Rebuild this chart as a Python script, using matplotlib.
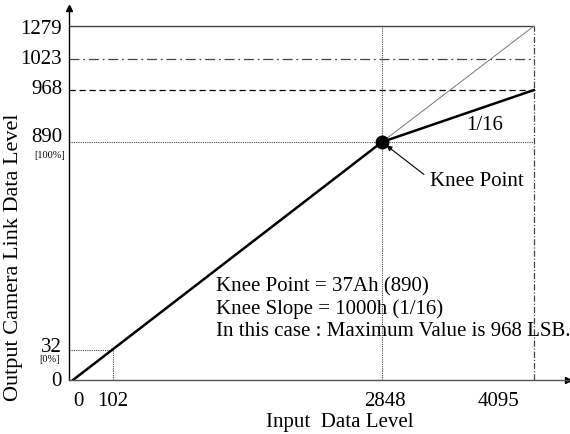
import numpy as np
import matplotlib
matplotlib.use("Agg")
import matplotlib.pyplot as plt

plt.rcParams['font.family'] = ['Liberation Serif', 'DejaVu Serif']

# input levels (x) and output levels (y)
x_ticks = [0, 102, 2848, 4095]
y_ticks = [0, 32, 890, 968, 1023, 1279]

# curve points
knee_in, knee_out = 2848, 890
max_in = 4095
clip_out = 968        # knee slope 1/16 result
dark_in, dark_out = 102, 32
lin_out = 1279        # without knee
full_out = 1023

# schematic (non-linear) placement of the tick levels, in pixels
x_place = [0, 40, 309, 461]
y_place = [0, 30, 238, 290, 321, 354]
# small label nudges, in pixels
x_lab_dx = [5, 0, 3, -36]
y_lab_dy = [-2, 3, 4, 0, -1, -3]


def piecewise(knots, place):
    knots = np.asarray(knots, float)
    place = np.asarray(place, float)
    s0 = (place[1] - place[0]) / (knots[1] - knots[0])
    s1 = (place[-1] - place[-2]) / (knots[-1] - knots[-2])

    def f(v):
        v = np.asarray(v, float)
        out = np.interp(v, knots, place)
        out = np.where(v < knots[0], place[0] + (v - knots[0]) * s0, out)
        out = np.where(v > knots[-1], place[-1] + (v - knots[-1]) * s1, out)
        return out
    return f


fx, fx_inv = piecewise(x_ticks, x_place), piecewise(x_place, x_ticks)
fy, fy_inv = piecewise(y_ticks, y_place), piecewise(y_place, y_ticks)

fig = plt.figure(figsize=(5.7, 4.34), dpi=100)
W, H = 570, 434
ax = fig.add_axes([69 / W, 54 / H, 499 / W, 372 / H])
ax.set_xscale('function', functions=(fx, fx_inv))
ax.set_yscale('function', functions=(fy, fy_inv))
ax.set_xlim(float(fx_inv(-4)), float(fx_inv(495)))
ax.set_ylim(0, float(fy_inv(372)))
x0 = ax.get_xlim()[0]

for s in ['top', 'right']:
    ax.spines[s].set_visible(False)
ax.spines['left'].set_linewidth(1.0)
ax.spines['bottom'].set_color('#555555')
ax.spines['bottom'].set_linewidth(1.0)
ax.plot(1, 0, '>', color='black', ms=4, transform=ax.transAxes, clip_on=False)
ax.plot(0, 1, '^', color='black', ms=4, transform=ax.transAxes, clip_on=False)

grey = '#444444'
# guide lines
ax.hlines(lin_out, x0, max_in, color=grey, lw=1.0)
ax.hlines(full_out, x0, max_in, color=grey, lw=0.9, linestyles=(0, (8, 3, 1.5, 3)))
ax.hlines(clip_out, x0, max_in, color='black', lw=0.9, linestyles=(0, (5, 3)))
ax.hlines(knee_out, x0, max_in, color=grey, lw=0.8, linestyles=(0, (1, 1)))
ax.hlines(dark_out, x0, dark_in, color=grey, lw=0.8, linestyles=(0, (1, 1)))
ax.vlines(dark_in, 0, dark_out, color=grey, lw=0.8, linestyles=(0, (1, 1)))
ax.vlines(knee_in, 0, lin_out, color=grey, lw=0.8, linestyles=(0, (1, 1)))
ax.vlines(max_in, 0, lin_out, color=grey, lw=0.9, linestyles=(0, (5, 1.5, 1, 1.5)))

# without knee (thin) and with knee (thick)
ax.plot([knee_in, max_in], [knee_out, lin_out], color='#777777', lw=0.7)
ax.plot([0, knee_in, max_in], [0, knee_out, clip_out], color='black', lw=1.8)
ax.plot(knee_in, knee_out, 'o', color='black', ms=9)

ax.set_xticks([])
ax.set_yticks([])
fs = 15
for v, dx in zip(x_ticks, x_lab_dx):
    ax.annotate(str(v), xy=(v, 0), xycoords=('data', 'axes fraction'),
                xytext=(dx, -22), textcoords='offset pixels',
                ha='center', va='center', fontsize=fs)
for v, dy in zip(y_ticks, y_lab_dy):
    ax.annotate(str(v), xy=(0, v), xycoords=('axes fraction', 'data'),
                xytext=(-7, dy), textcoords='offset pixels',
                ha='right', va='center', fontsize=fs)

ax.annotate('[100%]', xy=(0, knee_out), xycoords=('axes fraction', 'data'),
            xytext=(-19, -13), textcoords='offset pixels',
            ha='center', va='center', fontsize=7.5)
ax.annotate('[0%]', xy=(0, dark_out), xycoords=('axes fraction', 'data'),
            xytext=(-19, -10), textcoords='offset pixels',
            ha='center', va='center', fontsize=7.5)

ax.text(fx_inv(412), fy_inv(255), '1/16', fontsize=fs, ha='center', va='center')
ax.annotate('Knee Point', xy=(knee_in, knee_out),
            xytext=(fx_inv(357), fy_inv(198)),
            fontsize=fs, ha='left', va='center',
            arrowprops=dict(arrowstyle='-|>', color='black', lw=0.8,
                            mutation_scale=8, shrinkA=3, shrinkB=4,
                            relpos=(0, 0.65)))

ax.text(fx_inv(143), fy_inv(103),
        'Knee Point = 37Ah (890)\nKnee Slope = 1000h (1/16)\n'
        'In this case : Maximum Value is 968 LSB.',
        fontsize=fs, ha='left', va='top', linespacing=1.2)

fig.text(340 / W, 1 - 422 / H, 'Input  Data Level', fontsize=fs,
         ha='center', va='center')
fig.text(14 / W, 1 - 257 / H, 'Output Camera Link Data Level', fontsize=16,
         ha='center', va='center', rotation=90)

fig.savefig('out.png', dpi=100)
